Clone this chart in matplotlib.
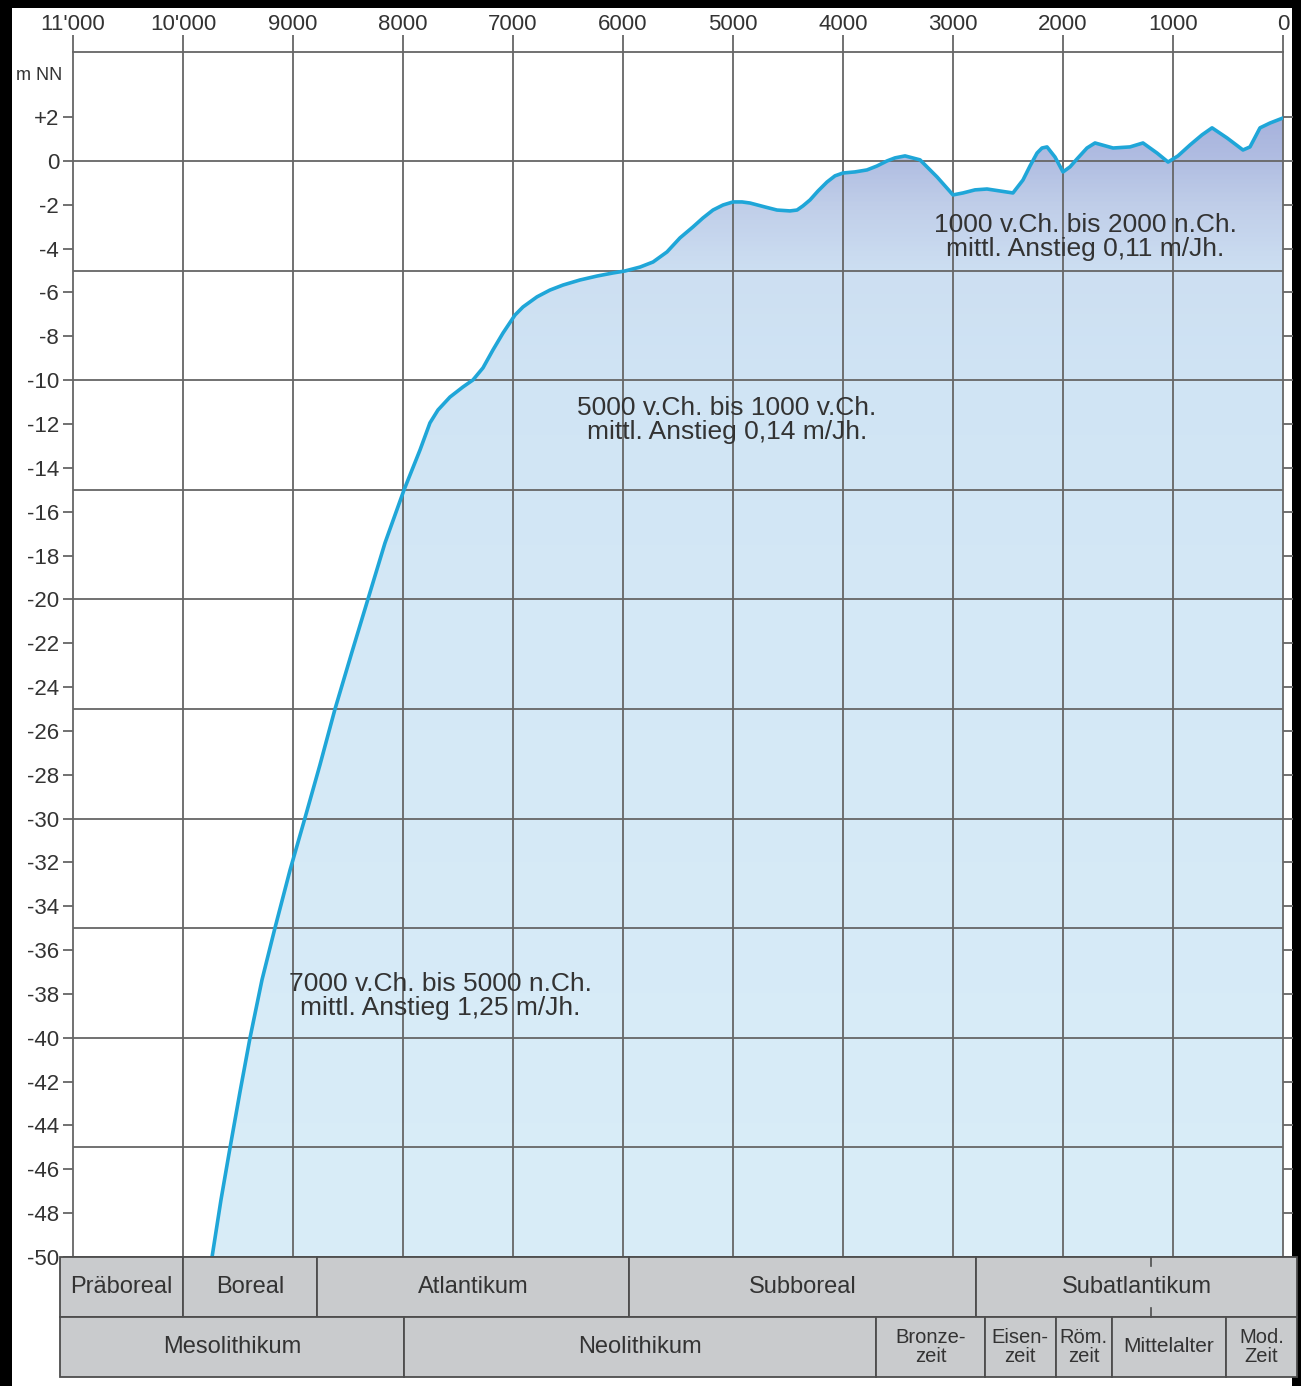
import numpy as np
import matplotlib
matplotlib.use("Agg")
from matplotlib import pyplot as plt
from matplotlib.colors import LinearSegmentedColormap
from matplotlib.patches import Rectangle

plt.rcParams['font.family'] = ['Liberation Sans', 'DejaVu Sans']

# sea level curve (years before present, m NN)
years = [9736, 9655, 9573, 9482, 9391, 9282, 9164, 9027, 8891, 8755, 8618,
         8464, 8318, 8164, 7991, 7845, 7755, 7682, 7573, 7455, 7364, 7273,
         7182, 7091, 6982, 6909, 6782, 6664, 6545, 6391, 6236, 6091, 5982,
         5845, 5727, 5600, 5482, 5364, 5273, 5182, 5091, 5000, 4918, 4845,
         4709, 4600, 4482, 4418, 4364, 4300, 4227, 4145, 4073, 4000, 3891,
         3782, 3691, 3600, 3527, 3436, 3300, 3145, 3000, 2909, 2800, 2691,
         2573, 2455, 2364, 2300, 2236, 2191, 2145, 2073, 2000, 1936, 1873,
         1782, 1709, 1545, 1391, 1273, 1145, 1045, 955, 845, 736, 645, 509,
         364, 300, 209, 118, 0]
level = [-50.0, -47.4, -45.03, -42.47, -40.01, -37.36, -34.99, -32.35, -29.97, -27.55, -25.0,
         -22.4, -19.98, -17.43, -15.01, -13.18, -11.95, -11.36, -10.77, -10.31, -9.99, -9.44,
         -8.62, -7.85, -7.03, -6.66, -6.2, -5.89, -5.66, -5.43, -5.25, -5.11, -5.02,
         -4.84, -4.61, -4.15, -3.51, -3.01, -2.6, -2.24, -2.01, -1.87, -1.87, -1.92,
         -2.1, -2.24, -2.28, -2.24, -2.05, -1.78, -1.37, -0.96, -0.68, -0.55, -0.5,
         -0.41, -0.23, 0.0, 0.14, 0.23, 0.05, -0.73, -1.55, -1.46, -1.32, -1.28,
         -1.37, -1.46, -0.87, -0.23, 0.36, 0.59, 0.64, 0.18, -0.5, -0.27, 0.09,
         0.59, 0.82, 0.59, 0.64, 0.82, 0.36, -0.05, 0.23, 0.73, 1.19, 1.51, 1.05,
         0.5, 0.64, 1.51, 1.73, 1.96]

year_ticks = [11000, 10000, 9000, 8000, 7000, 6000, 5000, 4000, 3000, 2000, 1000, 0]
year_labels = ["11'000", "10'000", "9000", "8000", "7000", "6000", "5000",
               "4000", "3000", "2000", "1000", "0"]
depth_ticks = list(range(2, -51, -2))
depth_labels = ["+2" if d > 0 else str(d) for d in depth_ticks]
grid_levels = [0, -5, -10, -15, -20, -25, -30, -35, -40, -45]

climate_names = ["Präboreal", "Boreal", "Atlantikum", "Subboreal", "Subatlantikum"]
climate_bounds = [11120, 10000, 8780, 5950, 2790, -125]
culture_names = ["Mesolithikum", "Neolithikum", "Bronze-\nzeit", "Eisen-\nzeit",
                 "Röm.\nzeit", "Mittelalter", "Mod.\nZeit"]
culture_bounds = [11120, 7990, 3700, 2710, 2070, 1560, 520, -125]

notes = [("1000 v.Ch. bis 2000 n.Ch.\nmittl. Anstieg 0,11 m/Jh.", 1800, -3.45),
         ("5000 v.Ch. bis 1000 v.Ch.\nmittl. Anstieg 0,14 m/Jh.", 5055, -11.8),
         ("7000 v.Ch. bis 5000 n.Ch.\nmittl. Anstieg 1,25 m/Jh.", 7664, -38.1)]

W, H = 1301, 1386
fig = plt.figure(figsize=(W / 100, H / 100), dpi=100, facecolor='black')
fig.patches.append(Rectangle((12 / W, 0), (1292 - 12) / W, 1 - 8 / H,
                             transform=fig.transFigure, facecolor='white',
                             edgecolor='none', zorder=-10))

ax = fig.add_axes([73 / W, 1 - 1257 / H, 1210 / W, (1257 - 52) / H])
ax.set_facecolor('none')

grid_col = '#666666'
# gradient fill under the curve
fill = ax.fill_between(years, level, -50, color='none', lw=0)
cmap = LinearSegmentedColormap.from_list('sea', [
    (0.0, '#d9edf8'), (0.575, '#d4e8f6'), (0.766, '#d0e4f4'),
    (0.862, '#cddff2'), (0.92, '#c0cee9'), (0.958, '#b1bee2'), (1.0, '#a6b1dc')])
grad = np.linspace(0, 1, 512).reshape(-1, 1)
img = ax.imshow(grad, extent=[11000, 0, -50, 2.2], origin='lower', cmap=cmap,
                aspect='auto', zorder=1, interpolation='bilinear')
img.set_clip_path(fill.get_paths()[0], transform=ax.transData)

for g in grid_levels:
    ax.axhline(g, color=grid_col, lw=1.3, zorder=2)
for yv in year_ticks[1:-1]:
    ax.axvline(yv, color=grid_col, lw=1.3, zorder=2)

ax.plot(years, level, color='#1fa6d8', lw=2.6, zorder=4,
        solid_capstyle='round', solid_joinstyle='round')

ax.set_xlim(11000, 0)
ax.set_ylim(-50, 4.97)

for s in ax.spines.values():
    s.set_color(grid_col)
    s.set_linewidth(1.3)

ax.xaxis.set_ticks_position('top')
ax.set_xticks(year_ticks)
ax.set_xticklabels(year_labels, fontsize=16, color='#333333')
ax.tick_params(axis='x', direction='out', length=12, width=1.3, color=grid_col, pad=0)

ax.set_yticks(depth_ticks)
ax.set_yticklabels(depth_labels, fontsize=16, color='#333333')
ax.tick_params(axis='y', which='both', direction='out', length=7, width=1.3,
               color=grid_col, pad=3, right=True, labelright=False)

fig.text(39 / W, 1 - 75 / H, "m NN", fontsize=13, color='#333333',
         ha='center', va='center')

for txt, xv, yv in notes:
    ax.text(xv, yv, txt, fontsize=19, color='#333333', ha='center', va='center',
            linespacing=1.0, zorder=5)

# period bands below the chart
bax = fig.add_axes([60 / W, 1 - 1377 / H, (1297 - 60) / W, 120 / H])
bax.set_xlim(11120, -125)
bax.set_ylim(0, 2)
bax.axis('off')
band_col = '#c9cbcd'
edge_col = '#4d4d4d'
for names, bounds, y0 in [(climate_names, climate_bounds, 1),
                          (culture_names, culture_bounds, 0)]:
    for i, name in enumerate(names):
        a, b = bounds[i], bounds[i + 1]
        bax.add_patch(Rectangle((b, y0), a - b, 1, facecolor=band_col,
                                edgecolor=edge_col, lw=1.3, clip_on=False))
        if '\n' in name:
            size = 14.5
        elif name == "Mittelalter":
            size = 15
        else:
            size = 17
        bax.text((a + b) / 2, y0 + 0.5, name, ha='center', va='center',
                 fontsize=size, color='#333333', linespacing=1.0)
# little marks inside Subatlantikum
bax.plot([1200, 1200], [1.85, 2.0], color=edge_col, lw=1.2)
bax.plot([1200, 1200], [1.0, 1.15], color=edge_col, lw=1.2)

fig.savefig("out.png", dpi=100, facecolor=fig.get_facecolor())
